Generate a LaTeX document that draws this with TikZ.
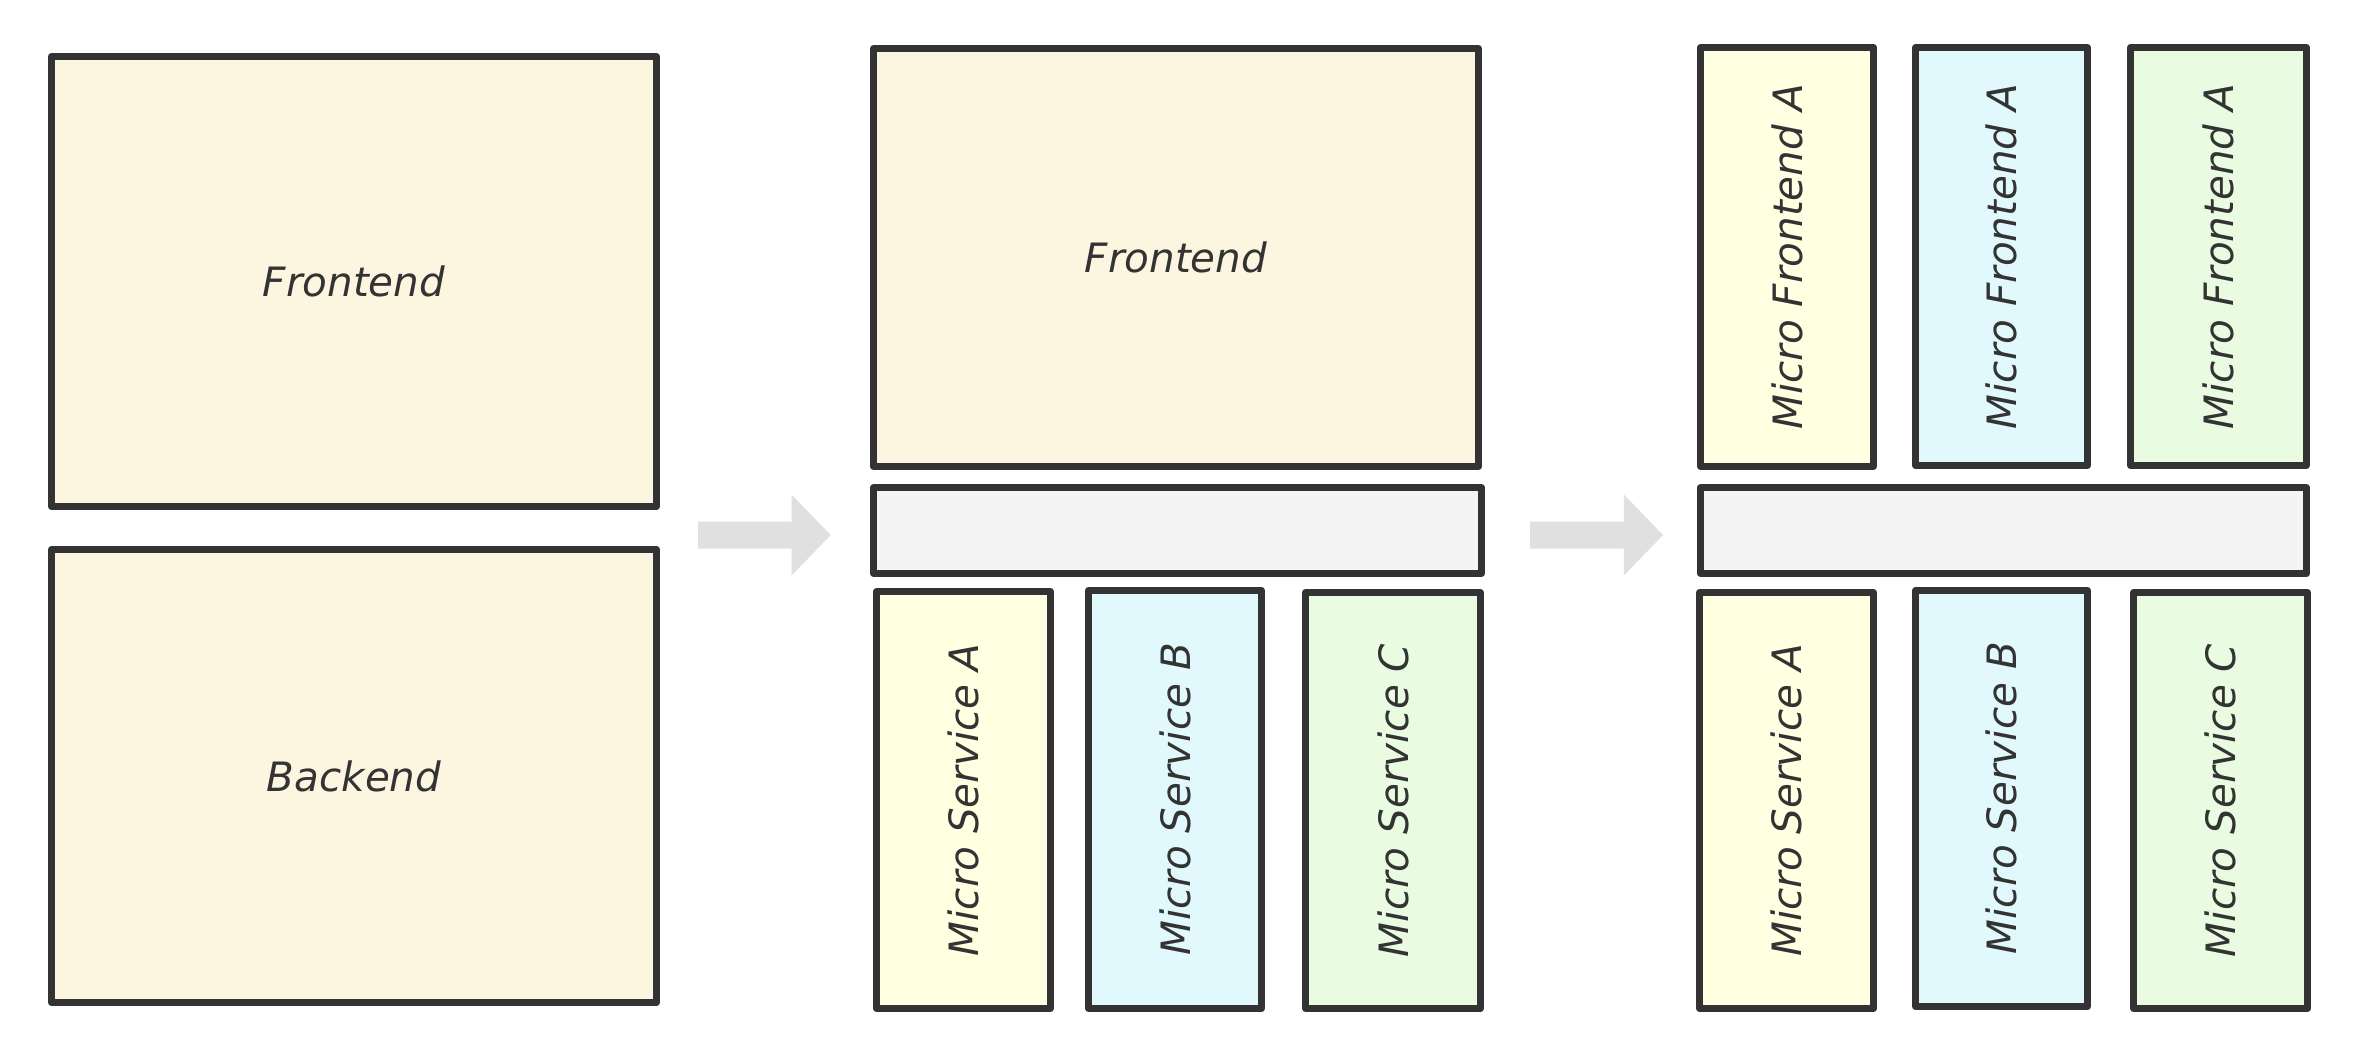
\documentclass[tikz,border=0pt]{standalone}
\usepackage{fontspec}
\setmainfont{DejaVu Sans}
\begin{document}
\begin{tikzpicture}[x=0.01cm, y=-0.01cm,
  labelfont/.style={text=ink, font=\fontsize{11.5pt}{13pt}\selectfont\itshape},
  box/.style={draw=edge, line width=0.065cm, line join=round, rectangle,
    inner sep=0pt, outer sep=0pt, labelfont},
  cream/.style={box, fill=creamfill},
  paleyellow/.style={box, fill=yellowfill},
  palecyan/.style={box, fill=cyanfill},
  palegreen/.style={box, fill=greenfill},
  bar/.style={box, fill=barfill},
  vtext/.style={labelfont, rotate=90},
  blockarrow/.style={fill=arrowfill, draw=none}]
\definecolor{edge}{HTML}{333333}
\definecolor{ink}{HTML}{333333}
\definecolor{creamfill}{HTML}{FCF5E0}
\definecolor{yellowfill}{HTML}{FFFFE1}
\definecolor{cyanfill}{HTML}{E1F9FC}
\definecolor{greenfill}{HTML}{E9FCE1}
\definecolor{barfill}{HTML}{F4F4F4}
\definecolor{arrowfill}{HTML}{E0E0E0}

\useasboundingbox[fill=white] (0,0) rectangle (2364,1062);

% monolith: frontend over backend
\node[cream, minimum width=6.05cm, minimum height=4.50cm] (lf) at (354,281.5) {Frontend};
\node[cream, minimum width=6.05cm, minimum height=4.53cm] (lb) at (354,776) {Backend};

% block arrow to the micro-service stage
\fill[blockarrow] (698,521.5) -- (791.5,521.5) -- (791.5,494.5) -- (830.7,535)
  -- (791.5,575.5) -- (791.5,548.5) -- (698,548.5) -- cycle;

% frontend on top of micro services
\node[cream, minimum width=6.05cm, minimum height=4.18cm] (mf) at (1176,257.5) {Frontend};
\node[bar, minimum width=6.08cm, minimum height=0.86cm] (mbar) at (1177.5,530.5) {};
\node[paleyellow, minimum width=1.74cm, minimum height=4.17cm] (msa) at (963.5,800) {};
\node[vtext] at (msa) {Micro Service A};
\node[palecyan, minimum width=1.73cm, minimum height=4.18cm] (msb) at (1175,799.5) {};
\node[vtext] at (msb) {Micro Service B};
\node[palegreen, minimum width=1.75cm, minimum height=4.16cm] (msc) at (1393,800.5) {};
\node[vtext] at (msc) {Micro Service C};

% block arrow to the micro-frontend stage
\fill[blockarrow] (1530,521.5) -- (1623.8,521.5) -- (1623.8,494.5) -- (1663,535)
  -- (1623.8,575.5) -- (1623.8,548.5) -- (1530,548.5) -- cycle;

% micro frontends over micro services
\node[paleyellow, minimum width=1.73cm, minimum height=4.19cm] (rf1) at (1787,257) {};
\node[vtext] at (rf1) {Micro Frontend A};
\node[palecyan, minimum width=1.72cm, minimum height=4.18cm] (rf2) at (2001.5,256.5) {};
\node[vtext] at (rf2) {Micro Frontend A};
\node[palegreen, minimum width=1.76cm, minimum height=4.18cm] (rf3) at (2218.5,256.5) {};
\node[vtext] at (rf3) {Micro Frontend A};
\node[bar, minimum width=6.06cm, minimum height=0.86cm] (rbar) at (2003.5,530.5) {};
\node[paleyellow, minimum width=1.74cm, minimum height=4.16cm] (rsa) at (1786.5,800.5) {};
\node[vtext] at (rsa) {Micro Service A};
\node[palecyan, minimum width=1.72cm, minimum height=4.16cm] (rsb) at (2001.5,798.5) {};
\node[vtext] at (rsb) {Micro Service B};
\node[palegreen, minimum width=1.74cm, minimum height=4.16cm] (rsc) at (2220.5,800.5) {};
\node[vtext] at (rsc) {Micro Service C};
\end{tikzpicture}
\end{document}
